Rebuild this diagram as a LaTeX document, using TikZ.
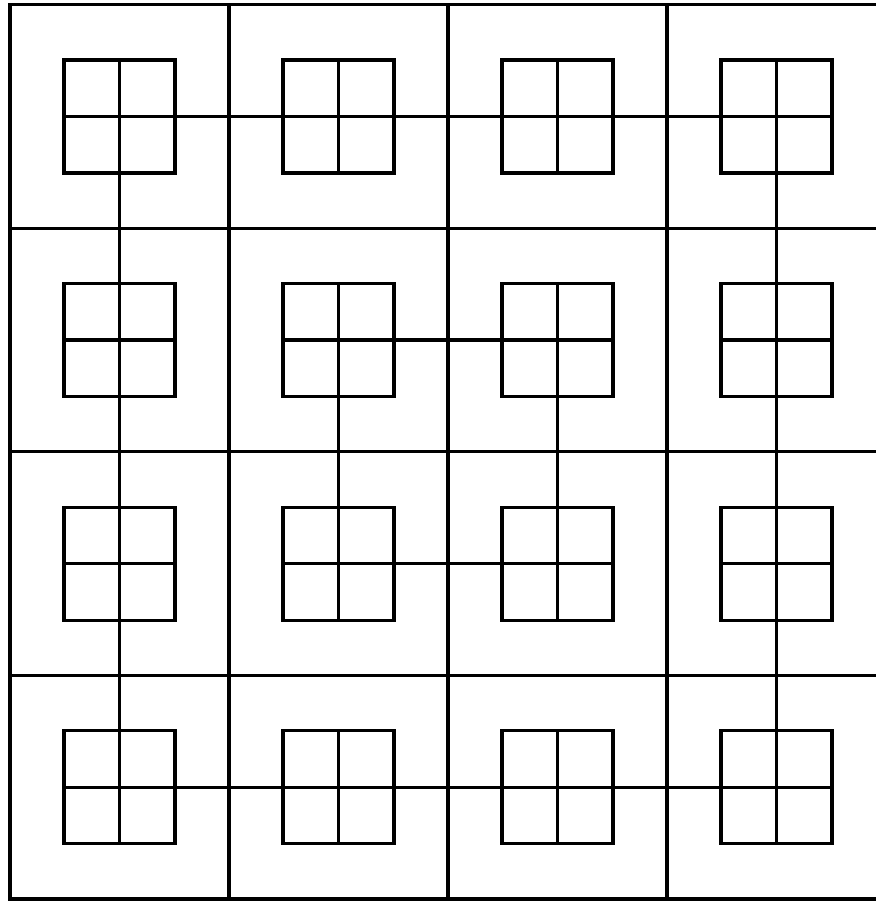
\documentclass[tikz,border=0pt]{standalone}
\usetikzlibrary{positioning}
\begin{document}
\begin{tikzpicture}[x=219pt,y=223.6pt,line width=3.2pt,
  cell/.style={draw,inner sep=0pt,minimum width=111pt,minimum height=113pt}]
\clip (-0.046,-0.009) rectangle (3.954,4.021);
\draw (0,0) grid[step={(1,1)}] (4,4);
\draw (0,0) rectangle (4,4);
% small 2x2 squares, one per field
\foreach \i in {0,...,3}
  \foreach \j in {0,...,3}{
    \node[cell] (q\i\j) at (\i+0.5,3.5-\j) {};
    \draw (q\i\j.north) -- (q\i\j.south) (q\i\j.west) -- (q\i\j.east);
  }
% outer ring
\draw (q00) -- (q10) -- (q20) -- (q30) -- (q31) -- (q32) -- (q33)
  -- (q23) -- (q13) -- (q03) -- (q02) -- (q01) -- (q00);
% inner ring
\draw (q11) -- (q21) -- (q22) -- (q12) -- (q11);
\end{tikzpicture}
\end{document}
